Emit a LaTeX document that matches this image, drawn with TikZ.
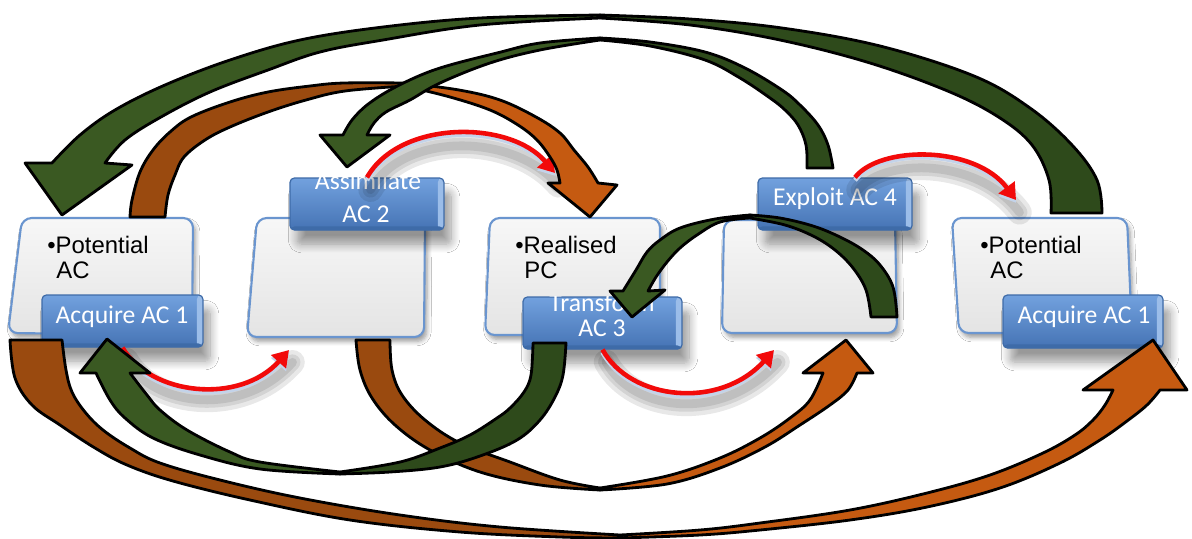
\documentclass[tikz,border=0pt]{standalone}
\usepackage{fontspec}
\setmainfont{Liberation Sans}
\newfontfamily\tagfont{Carlito}
\usetikzlibrary{arrows.meta,calc,shadows.blur}

\definecolor{panelEdge}{HTML}{6A95CF}
\definecolor{panelTop}{HTML}{F7F7F7}
\definecolor{panelBottom}{HTML}{E4E4E4}
\definecolor{tagTop}{HTML}{72A1DE}
\definecolor{tagBottom}{HTML}{4573B4}
\definecolor{tagEdge}{HTML}{3E6BA8}
\definecolor{tagShine}{HTML}{9BBDE9}
\definecolor{flowRed}{HTML}{F20A0A}
\definecolor{flowSheen}{HTML}{C3D3EA}
\definecolor{greenDeep}{HTML}{2E4A1B}
\definecolor{greenHead}{HTML}{3A5922}
\definecolor{rust}{HTML}{9A4A0F}
\definecolor{amber}{HTML}{C55A11}

\tikzset{
  panel/.style={draw=panelEdge, line width=1.2pt, rounded corners=5.5pt,
    top color=panelTop, bottom color=panelBottom,
    blur shadow={shadow xshift=1.5pt, shadow yshift=-2.5pt, shadow blur radius=2.5pt, shadow blur steps=6}},
  tag/.style={draw=tagEdge, line width=0.7pt, rounded corners=2.5pt,
    top color=tagTop, bottom color=tagBottom, inner sep=0pt,
    blur shadow={shadow xshift=4pt, shadow yshift=-8pt, shadow blur radius=5pt, shadow blur steps=10},
    path picture={
      \fill[tagShine] ([xshift=-3.5pt]path picture bounding box.north east) rectangle (path picture bounding box.south east);
      \fill[tagEdge] (path picture bounding box.south west) rectangle ([yshift=2pt]path picture bounding box.south east);
    }},
  tagtext/.style={anchor=base, inner sep=0pt, text=white, font=\tagfont\fontsize{14.6}{16}\selectfont},
  bodytext/.style={anchor=base west, inner sep=0pt, text=black, font=\fontsize{13.6}{15}\selectfont},
  flowshade/.style={draw=black, line width=#1, opacity=0.09, line cap=round,
    transform canvas={xshift=2pt, yshift=-7pt}},
  flowsheen/.style={draw=flowSheen, line width=2.6pt, -{Triangle[length=9pt,width=11pt]},
    transform canvas={yshift=-1.6pt}},
  flowline/.style={draw=flowRed, line width=2.6pt, -{Triangle[length=9pt,width=11pt]}},
  band/.style={draw=black, line width=1.6pt, line join=round},
}

% small red curved arrow: start, first control, second control, end
\newcommand\flowarc[4]{%
  \foreach \w in {14pt,9pt,5pt}{\draw[flowshade=\w] #1 .. controls #2 and #3 .. #4;}
  \draw[flowsheen] #1 .. controls #2 and #3 .. #4;
  \draw[flowline] #1 .. controls #2 and #3 .. #4;}

\begin{document}
\begin{tikzpicture}[x=0.02cm, y=-0.02cm]
\fill[white] (0,0) rectangle (1192,538);
\useasboundingbox (0,0) rectangle (1192,538);

% ---- the five panels ----
\draw[panel] (22,218) -- (193,218) -- (192,335) -- (8,333) -- cycle;
\draw[panel] (257,218) -- (425,218) -- (424,337) -- (247,337) -- cycle;
\draw[panel] (490,218) -- (660,218) -- (660,335) -- (485,335) -- cycle;
\draw[panel] (724,220) -- (895,220) -- (897,333) -- (722,333) -- cycle;
\draw[panel] (952,218) -- (1127,218) -- (1132,333) -- (959,333) -- cycle;

% ---- panel texts ----
\node[bodytext] (pa1) at (47,253) {•Potential};
\node[bodytext] (pa2) at (56,278) {AC};
\node[bodytext] (pc1) at (515,253) {•Realised};
\node[bodytext] (pc2) at (524,278) {PC};
\node[bodytext] (pe1) at (980,253) {•Potential};
\node[bodytext] (pe2) at (990,278) {AC};

% ---- blue tags ----
\node[tag, minimum width=3.22cm, minimum height=1.04cm] (L1) at (122.5,321) {};
\node[tag, minimum width=3.08cm, minimum height=1.04cm] (L2) at (367,204) {};
\node[tag, minimum width=3.18cm, minimum height=1.04cm] (L3) at (602.5,323) {};
\node[tag, minimum width=3.08cm, minimum height=1.04cm] (L4) at (835,204) {};
\node[tag, minimum width=3.20cm, minimum height=1.06cm] (L5) at (1083,321.5) {};

\node[tagtext] (t1) at (122,323) {Acquire AC 1};
\begin{scope}
  \clip (L2.south west) rectangle (L2.north east);
  \node[tagtext] (t2a) at (368,189) {Assimilate};
  \node[tagtext] (t2b) at (366,222) {AC 2};
\end{scope}
\begin{scope}
  \clip (L3.south west) rectangle (L3.north east);
  \node[tagtext] (t3a) at (602,311) {Transform};
  \node[tagtext] (t3b) at (602,336) {AC 3};
\end{scope}
\node[tagtext] (t4) at (835,205) {Exploit AC 4};
\node[tagtext] (t5) at (1084,323) {Acquire AC 1};

% ---- red step arrows ----
\coordinate (r1e) at (289,350);
\coordinate (r2e) at (555,173);
\coordinate (r3e) at (774,350);
\coordinate (r4e) at (1016,200);
\flowarc{(L1.south)}{+(28,48)}{+(-49,55)}{(r1e)}
\flowarc{(L2.north)}{+(33,-58)}{+(-45,-53)}{(r2e)}
\flowarc{(L3.south)}{+(28,51)}{+(-54,60)}{(r3e)}
\flowarc{($(L4.north)+(20,0)$)}{+(25,-32)}{+(-41,-55)}{(r4e)}

% ---- orange / brown bands ----
% upper arc: Acquire -> Realised
\filldraw[band, fill=rust] plot[smooth, tension=.6] coordinates {(130,217) (132,200) (140,172) (153,150) (170,132) (191,117) (230,102) (268,92) (310,86) (344,83) (405,83)}
  -- plot[smooth, tension=.6] coordinates {(405,86) (345,91) (306,100) (268,112) (230,127) (205,140) (184,157) (175,175) (168,195) (165,217)} -- cycle;
\filldraw[band, fill=amber] plot[smooth, tension=.6] coordinates {(405,83) (459,90) (500,100) (536,117) (560,133) (574,150) (588,167) (598,183)}
  -- (617,185) -- (590,217) -- (548,183)
  -- plot[smooth, tension=.6] coordinates {(560,183) (557,170) (550,157) (537,140) (518,125) (490,110) (450,97) (405,86)} -- cycle;

% long lower arc: Acquire -> Acquire
\filldraw[band, fill=rust] plot[smooth, tension=.6] coordinates {(10,340) (15,378) (32,405) (60,425) (95,448) (127,465) (173,481) (250,500) (350,520) (460,532) (560,537) (620,538)}
  -- plot[smooth, tension=.6] coordinates {(620,535) (500,527) (400,515) (300,498) (220,480) (160,463) (130,448) (103,430) (85,412) (72,392) (66,370) (62,340)} -- cycle;
\filldraw[band, fill=amber] plot[smooth, tension=.6] coordinates {(620,538) (700,535) (760,530) (850,520) (927,507) (1000,488) (1060,463) (1100,440) (1127,421) (1147,405) (1160,390)}
  -- (1187,390) -- (1153,340) -- (1083,390)
  -- plot[smooth, tension=.6] coordinates {(1113,390) (1105,405) (1093,420) (1075,435) (1043,453) (990,475) (927,493) (850,510) (760,523) (700,530) (620,535)} -- cycle;

% middle lower arc: Assimilate -> Exploit
\filldraw[band, fill=rust] plot[smooth, tension=.6] coordinates {(356,340) (360,370) (372,398) (395,425) (430,450) (480,472) (540,485) (600,490)}
  -- plot[smooth, tension=.6] coordinates {(600,488) (560,480) (510,462) (460,443) (425,420) (402,395) (392,370) (390,340)} -- cycle;
\filldraw[band, fill=amber] plot[smooth, tension=.6] coordinates {(600,490) (667,484) (720,468) (765,447) (800,425) (830,405) (848,390) (857,373)}
  -- (873,373) -- (846,340) -- (803,373)
  -- plot[smooth, tension=.6] coordinates {(823,373) (810,400) (790,418) (760,438) (720,458) (667,476) (600,488)} -- cycle;

% ---- green bands ----
% big top arc: Acquire (right) -> Acquire (left)
\filldraw[band, fill=greenDeep] plot[smooth, tension=.6] coordinates {(1102,213) (1097,180) (1072,145) (1030,108) (974,76) (880,46) (782,28) (690,19) (600,15)}
  -- plot[smooth, tension=.6] coordinates {(600,18) (690,25) (780,40) (870,63) (950,92) (1000,118) (1032,145) (1049,180) (1051,213)} -- cycle;
\filldraw[band, fill=greenHead] plot[smooth, tension=.6] coordinates {(600,15) (480,18) (383,27) (300,40) (230,60) (165,85) (115,110) (80,135) (52,163)}
  -- (25,163) -- (62,215) -- (132,165)
  -- plot[smooth, tension=.6] coordinates {(105,163) (125,140) (161,117) (210,92) (268,70) (320,52) (383,40) (480,25) (600,18)} -- cycle;

% top arc: Exploit -> Assimilate
\filldraw[band, fill=greenDeep] plot[smooth, tension=.6] coordinates {(833,168) (828,145) (818,125) (800,105) (782,90) (745,68) (705,52) (650,42) (600,38)}
  -- plot[smooth, tension=.6] coordinates {(600,40) (650,46) (705,60) (740,78) (770,98) (785,110) (798,125) (806,145) (807,168)} -- cycle;
\filldraw[band, fill=greenHead] plot[smooth, tension=.6] coordinates {(600,38) (540,43) (497,53) (450,65) (421,75) (390,90) (367,105) (352,120) (343,135)}
  -- (320,135) -- (347,167) -- (390,135)
  -- plot[smooth, tension=.6] coordinates {(367,135) (374,123) (386,112) (410,100) (440,83) (490,63) (540,50) (600,40)} -- cycle;

% short arc inside the Exploit panel: Exploit -> Transform
\filldraw[band, fill=greenDeep] plot[smooth, tension=.6] coordinates {(897,317) (893,287) (880,265) (863,250) (840,237) (813,226) (780,218) (750,215)}
  -- plot[smooth, tension=.6] coordinates {(750,218) (785,225) (813,236) (835,250) (853,268) (866,290) (871,317)} -- cycle;
\filldraw[band, fill=greenHead] plot[smooth, tension=.6] coordinates {(750,215) (715,219) (680,228) (660,240) (647,252) (636,270) (623,291)}
  -- (610,291) -- (632,317) -- (665,290)
  -- plot[smooth, tension=.6] coordinates {(648,291) (656,277) (667,262) (680,248) (697,235) (720,222) (750,218)} -- cycle;

% lower arc: Transform -> Acquire
\filldraw[band, fill=greenDeep] plot[smooth, tension=.6] coordinates {(566,343) (563,375) (555,397) (540,420) (517,440) (480,456) (440,467) (390,472) (340,474)}
  -- plot[smooth, tension=.6] coordinates {(340,472) (400,462) (440,448) (470,435) (497,418) (510,408) (524,392) (531,375) (533,343)} -- cycle;
\filldraw[band, fill=greenHead] plot[smooth, tension=.6] coordinates {(340,474) (260,469) (200,455) (153,438) (125,418) (110,400) (96,373)}
  -- (80,373) -- (107,339) -- (150,373)
  -- plot[smooth, tension=.6] coordinates {(130,373) (147,395) (160,410) (187,430) (230,452) (260,462) (340,472)} -- cycle;
\end{tikzpicture}
\end{document}
